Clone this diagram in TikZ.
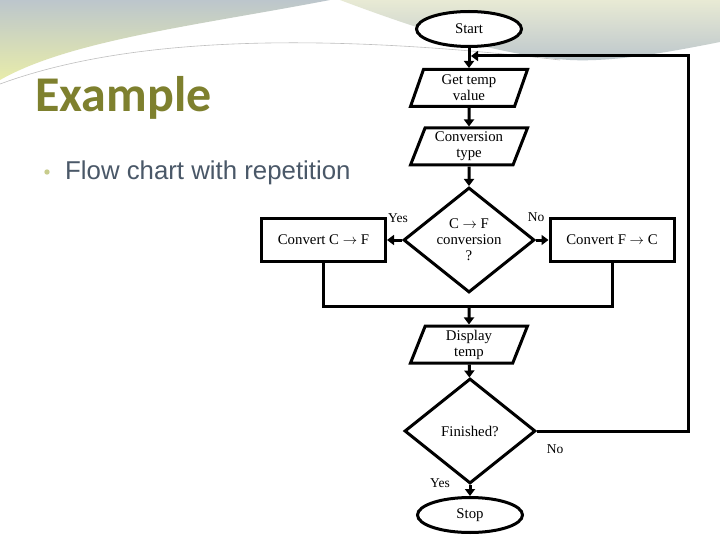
\documentclass[tikz,border=0pt]{standalone}
\usepackage{fontspec}
\setmainfont{Liberation Serif}
\newfontfamily\titlefont{Carlito}
\newfontfamily\bodyfont{Liberation Sans}
\usepackage{tikz}
\usetikzlibrary{arrows.meta,shapes.geometric}
\definecolor{olivetitle}{RGB}{126,128,46}
\definecolor{slatetext}{RGB}{74,88,104}
\definecolor{bulletcol}{RGB}{200,204,140}
\definecolor{swoopgrey}{RGB}{188,198,204}
\definecolor{swoopyellow}{RGB}{232,236,170}
\definecolor{swooppale}{RGB}{232,234,212}

\begin{document}
\begin{tikzpicture}[x=1pt,y=-1pt]
\tikzstyle{every node}+=[inner sep=0pt]
\tikzstyle{flowline}=[line width=3pt]
\tikzstyle{flowarrow}=[line width=3pt,-{Triangle[length=7pt,width=10pt]}]
\tikzstyle{chartfont}=[font=\fontsize{14.8}{16}\selectfont,align=center]
\tikzstyle{terminal}=[chartfont,draw,fill=white,ellipse,line width=3pt,minimum width=105pt,minimum height=35pt]
\tikzstyle{io}=[chartfont,draw,fill=white,trapezium,trapezium left angle=63.4,trapezium right angle=116.6,trapezium stretches body,line width=3pt,minimum width=117pt,minimum height=37pt]
\tikzstyle{process}=[chartfont,draw,fill=white,rectangle,line width=3pt,minimum width=124pt,minimum height=42pt]
\tikzstyle{decision}=[chartfont,draw,fill=white,diamond,shape aspect=1.25,line width=3pt,minimum width=131pt,minimum height=105pt]
\tikzstyle{answer}=[font=\fontsize{13.5}{15}\selectfont]
\useasboundingbox (0,0) rectangle (720,540);
\fill[white] (0,0) rectangle (720,540);
% background swoosh
\shade[top color=swoopgrey,bottom color=swoopyellow] (0,0) -- (330,0) .. controls (200,25) and (70,40) .. (0,80) -- cycle;
\shade[top color=swooppale,bottom color=swoopgrey] (340,0) -- (720,0) -- (720,42) .. controls (660,54) and (610,62) .. (570,60) .. controls (500,56) and (420,30) .. (340,0) -- cycle;
\draw[gray!50,line width=0.6pt] (0,84) .. controls (120,40) and (300,30) .. (560,60);
% title and bullet
\node[anchor=base west,text=olivetitle] (title) at (35,112) {\titlefont\bfseries\fontsize{50}{52}\selectfont Example};
\fill[bulletcol] (47,172) circle (2.7);
\node[anchor=base west,text=slatetext] (subtitle) at (65,180) {\bodyfont\fontsize{25.8}{28}\selectfont Flow chart with repetition};
% flow chart
\node[terminal] (start) at (469,29) {Start};
\node[io] (gettemp) at (469,88) {Get temp\\value};
\node[io] (convtype) at (469,146.5) {Conversion\\type};
\node[decision] (cfcheck) at (469,240) {C $\rightarrow$ F\\conversion\\?};
\node[process] (ctof) at (323.5,240) {Convert C $\rightarrow$ F};
\node[process] (ftoc) at (612,240) {Convert F $\rightarrow$ C};
\node[io] (display) at (469,344.5) {Display\\temp};
\node[decision] (finished) at (470,431) {Finished?};
\node[terminal] (stop) at (470,515) {Stop};
\coordinate (join) at (469,306);
\coordinate (loopright) at (688,56);
\coordinate (loopin) at (471,56);
\draw[flowarrow] (start) -- (gettemp);
\draw[flowarrow] (gettemp) -- (convtype);
\draw[flowarrow] (convtype) -- (cfcheck);
\draw[flowarrow] (cfcheck.west) -- (ctof.east);
\draw[flowarrow] (cfcheck.east) -- (ftoc.west);
\draw[flowline] (ctof.south) |- (join) -| (ftoc.south);
\draw[flowarrow] (join) -- (display);
\draw[flowarrow] (display) -- (finished);
\draw[flowarrow] (finished) -- (stop);
\draw[flowarrow] (finished.east) -| (loopright) -- (loopin);
\node[answer] (yesleft) at (398,218) {Yes};
\node[answer] (noright) at (536,217) {No};
\node[answer] (noloop) at (555,449) {No};
\node[answer] (yesstop) at (440,483) {Yes};
\end{tikzpicture}
\end{document}
